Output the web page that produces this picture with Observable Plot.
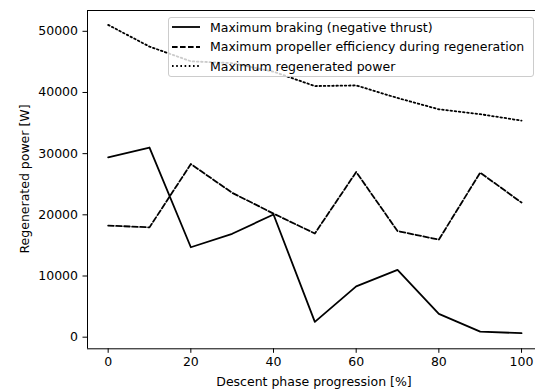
<!DOCTYPE html>
<html>
<head>
<meta charset="utf-8">
<script src="https://cdn.jsdelivr.net/npm/d3@7"></script>
<script src="https://cdn.jsdelivr.net/npm/@observablehq/plot@0.6"></script>
<style>
  html, body { margin: 0; padding: 0; background: #fff; }
  #wrap { position: relative; width: 535px; height: 390px; overflow: hidden; font-family: "DejaVu Sans", sans-serif; }
  #legend { position: absolute; left: 168px; top: 17px; width: 366px; height: 60px;
    border: 1px solid #cccccc; border-radius: 3px; background: rgba(255,255,255,0.8);
    box-sizing: border-box; font-size: 12.5px; color: #000; }
  .row { position: absolute; left: 0; height: 18px; display: flex; align-items: center; }
  .row svg { margin-left: 3px; margin-right: 10px; }
</style>
</head>
<body>
<div id="wrap"></div>
<script>
const progress = [0, 10, 20, 30, 40, 50, 60, 70, 80, 90, 100];
const braking = [29400, 31000, 14700, 16900, 20050, 2500, 8300, 11000, 3800, 900, 650];
const efficiency = [18250, 17950, 28300, 23600, 20200, 16950, 27000, 17350, 15950, 26900, 22000];
const regenerated = [51050, 47500, 45100, 44800, 43400, 41050, 41150, 39100, 37250, 36450, 35400];
const seriesNames = ["Maximum braking (negative thrust)", "Maximum propeller efficiency during regeneration", "Maximum regenerated power"];
const xTicks = [0, 20, 40, 60, 80, 100];
const yTicks = [0, 10000, 20000, 30000, 40000, 50000];

const toRows = (vals) => progress.map((p, i) => ({x: p, y: vals[i]}));
const xDom = [-5, 105], yDom = [-1900, 53400];
const dashes = [null, "5.6,2.4", "1.6,2.6"];

const chart = Plot.plot({
  width: 535, height: 390,
  marginLeft: 87, marginTop: 10, marginBottom: 41.7, marginRight: 0,
  style: {fontFamily: "DejaVu Sans, sans-serif", fontSize: "12.5px", color: "#000", background: "transparent"},
  x: {domain: xDom, range: [87, 541.7], label: null},
  y: {domain: yDom, range: [348.3, 10], label: null},
  marks: [
    Plot.line(toRows(braking), {x: "x", y: "y", stroke: "#000", strokeWidth: 1.8}),
    Plot.line(toRows(efficiency), {x: "x", y: "y", stroke: "#000", strokeWidth: 1.8, strokeDasharray: dashes[1]}),
    Plot.line(toRows(regenerated), {x: "x", y: "y", stroke: "#000", strokeWidth: 1.8, strokeDasharray: dashes[2]}),
    Plot.ruleX([xDom[0]], {y1: yDom[0], y2: yDom[1], stroke: "#000", strokeWidth: 1}),
    Plot.ruleY(yDom, {x1: xDom[0], x2: xDom[1], stroke: "#000", strokeWidth: 1}),
    Plot.axisX(xTicks, {tickSize: 4.5, tickPadding: 4, stroke: "#000", strokeOpacity: 1, fontSize: 12.5, fill: "#000", label: null}),
    Plot.axisY(yTicks, {tickSize: 4.5, tickPadding: 5, stroke: "#000", strokeOpacity: 1, fontSize: 12.5, fill: "#000", label: null, tickFormat: d => String(d)})
  ]
});

const wrap = document.getElementById("wrap");
wrap.appendChild(chart);

// axis titles
const svg = d3.select(chart);
svg.append("text").attr("x", 314).attr("y", 385.5).attr("text-anchor", "middle")
  .attr("font-size", 12.5).attr("fill", "#000").text("Descent phase progression [%]");
svg.append("text").attr("transform", "translate(29,179) rotate(-90)").attr("text-anchor", "middle")
  .attr("font-size", 12.5).attr("fill", "#000").text("Regenerated power [W]");

// legend
const legend = document.createElement("div");
legend.id = "legend";
const rowTops = [0, 19.5, 39];
seriesNames.forEach((name, i) => {
  const row = document.createElement("div");
  row.className = "row";
  row.style.top = rowTops[i] + "px";
  const ns = "http://www.w3.org/2000/svg";
  const s = document.createElementNS(ns, "svg");
  s.setAttribute("width", 28); s.setAttribute("height", 10);
  const l = document.createElementNS(ns, "line");
  l.setAttribute("x1", 0); l.setAttribute("x2", 28); l.setAttribute("y1", 5); l.setAttribute("y2", 5);
  l.setAttribute("stroke", "#000"); l.setAttribute("stroke-width", 1.8);
  if (dashes[i]) l.setAttribute("stroke-dasharray", dashes[i]);
  s.appendChild(l);
  row.appendChild(s);
  const t = document.createElement("span");
  t.textContent = name;
  row.appendChild(t);
  legend.appendChild(row);
});
wrap.appendChild(legend);
</script>
</body>
</html>
